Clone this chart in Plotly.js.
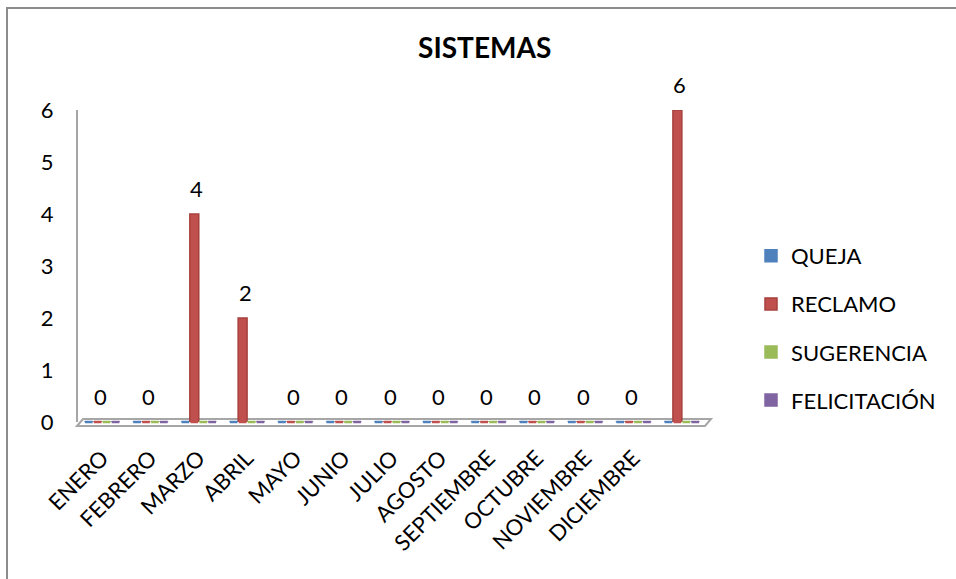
<!DOCTYPE html>
<html>
<head>
<meta charset="utf-8">
<script src="https://cdn.plot.ly/plotly-3.0.1.min.js"></script>
<style>
  html, body { margin: 0; padding: 0; background: #fff; }
  #wrap { position: relative; width: 956px; height: 579px; overflow: hidden; }
  #chart { width: 956px; height: 579px; }
  #frame { position: absolute; left: 6px; top: 7px; width: 1000px; height: 1000px;
           border-left: 2px solid #8c8c8c; border-top: 2px solid #8c8c8c; pointer-events: none; }
</style>
</head>
<body>
<div id="wrap">
  <div id="chart"></div>
  <div id="frame"></div>
</div>
<script>
// Categories: twelve months plus the yearly total (its tick label is left blank)
const categories = ["ENERO", "FEBRERO", "MARZO", "ABRIL", "MAYO", "JUNIO", "JULIO",
                    "AGOSTO", "SEPTIEMBRE", "OCTUBRE", "NOVIEMBRE", "DICIEMBRE", "TOTAL"];
const tickLabels = ["ENERO", "FEBRERO", "MARZO", "ABRIL", "MAYO", "JUNIO", "JULIO",
                    "AGOSTO", "SEPTIEMBRE", "OCTUBRE", "NOVIEMBRE", "DICIEMBRE", ""];

const queja        = [0, 0, 0, 0, 0, 0, 0, 0, 0, 0, 0, 0, 0];
const reclamo      = [0, 0, 4, 2, 0, 0, 0, 0, 0, 0, 0, 0, 6];
const sugerencia   = [0, 0, 0, 0, 0, 0, 0, 0, 0, 0, 0, 0, 0];
const felicitacion = [0, 0, 0, 0, 0, 0, 0, 0, 0, 0, 0, 0, 0];

const seriesNames  = ["QUEJA", "RECLAMO", "SUGERENCIA", "FELICITACIÓN"];
const seriesValues = [queja, reclamo, sugerencia, felicitacion];
const seriesColors = ["#4F81BD", "#C0504D", "#9BBB59", "#8064A2"];
const seriesEdges  = ["#4F81BD", "#A6403D", "#9BBB59", "#8064A2"];

const FONT = "Lato, 'Open Sans', sans-serif";
const GAP = 0.26;

// Plot-area geometry in pixels, used for the decorative floor slab
const L = 78, R = 706, T = 110, B = 422;
const px = (x) => (x - L) / (R - L);
const py = (y) => (B - y) / (B - T);

const data = [];
seriesNames.forEach((name, k) => {
  data.push({
    type: "bar", name: name, x: categories, y: seriesValues[k],
    marker: { color: seriesColors[k], line: { color: seriesEdges[k], width: 1.5 } },
    legendgroup: "g" + k, hoverinfo: "x+y+name"
  });
});
// Column footprints on the floor (visible where a column has no height)
seriesNames.forEach((name, k) => {
  data.push({
    type: "scatter", mode: "markers", name: name + " base", x: categories,
    y: seriesValues[k].map(() => 0), showlegend: false, hoverinfo: "skip",
    marker: { symbol: "line-ew", size: 5.5, line: { color: seriesColors[k], width: 2.5 } },
    cliponaxis: false
  });
});

// Value labels over the RECLAMO columns
const annotations = categories.map((c, i) => ({
  x: c, y: reclamo[i], xref: "x", yref: "y",
  text: String(reclamo[i]), showarrow: false,
  xshift: -2, yshift: 26, yanchor: "middle",
  font: { family: FONT, size: 22, color: "#000" }
}));

const layout = {
  width: 956, height: 579,
  margin: { l: L, r: 956 - R, t: T, b: 579 - B },
  paper_bgcolor: "#fff", plot_bgcolor: "rgba(0,0,0,0)",
  title: {
    text: "<b>SISTEMAS</b>", x: 0.507, xanchor: "center",
    y: 1 - 48 / 579, yanchor: "middle",
    font: { family: FONT, size: 28, color: "#000" }
  },
  barmode: "group", bargap: GAP, bargroupgap: 0,
  scattermode: "group", scattergap: GAP,
  xaxis: {
    type: "category", range: [-0.5, 12.5],
    tickvals: categories, ticktext: tickLabels,
    tickangle: -45, ticks: "", showgrid: false, zeroline: false, showline: false,
    ticklabelstandoff: 18,
    tickfont: { family: FONT, size: 22, color: "#000" }
  },
  yaxis: {
    range: [0, 6], tickvals: [0, 1, 2, 3, 4, 5, 6],
    ticks: "", showgrid: false, zeroline: false,
    showline: true, linecolor: "#a6a6a6", linewidth: 2,
    ticklabelstandoff: 18,
    tickfont: { family: FONT, size: 22, color: "#000" }
  },
  legend: {
    x: px(751), xanchor: "left", y: py(235), yanchor: "top",
    tracegroupgap: 16.5, traceorder: "grouped",
    font: { family: FONT, size: 22, color: "#000" },
    bgcolor: "rgba(0,0,0,0)"
  },
  shapes: [{
    type: "path", xref: "paper", yref: "paper", layer: "below",
    path: "M " + px(77) + " " + py(426) + " L " + px(83) + " " + py(419) +
          " L " + px(711) + " " + py(419) + " L " + px(705) + " " + py(426) + " Z",
    fillcolor: "#ffffff", line: { color: "#a6a6a6", width: 2 }
  }],
  annotations: annotations,
  showlegend: true
};

Plotly.newPlot("chart", data, layout, { displayModeBar: false, staticPlot: true });
</script>
</body>
</html>
